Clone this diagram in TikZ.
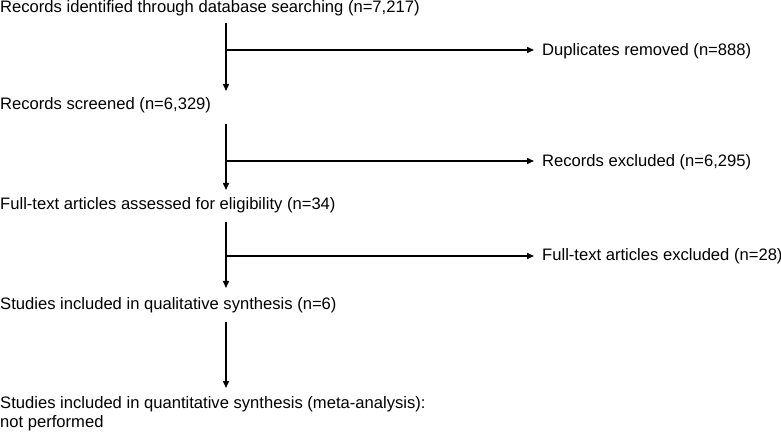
\documentclass[tikz,border=0pt]{standalone}
\usepackage{fontspec}
\setmainfont{Liberation Sans}
\usetikzlibrary{arrows.meta}
\begin{document}
\begin{tikzpicture}[x=1pt,y=-1pt,
  lbl/.style={inner sep=0pt,anchor=base west,font=\fontsize{16.6}{19}\selectfont},
  conn/.style={line width=1.5pt,-{Triangle[length=7pt,width=6pt]}}]
\useasboundingbox (0,0) rectangle (781,435);
% main column
\node[lbl] (L1) at (0,13) {Records identified through database searching (n=7,217)};
\node[lbl] (L2) at (0,110) {Records screened (n=6,329)};
\node[lbl] (L3) at (0,210) {Full-text articles assessed for eligibility (n=34)};
\node[lbl] (L4) at (0,309) {Studies included in qualitative synthesis (n=6)};
\node[lbl,anchor=north west,align=left] (L5) at (0,396) {Studies included in quantitative synthesis (meta-analysis):\\not performed};
% side boxes
\node[lbl] (R1) at (542,56) {Duplicates removed (n=888)};
\node[lbl] (R2) at (542,167) {Records excluded (n=6,295)};
\node[lbl] (R3) at (542,261) {Full-text articles excluded (n=28)};
% trunk coordinates
\coordinate (a1) at (226,23);  \coordinate (b1) at (226,91);  \coordinate (j1) at (226,50);
\coordinate (a2) at (226,124); \coordinate (b2) at (226,190); \coordinate (j2) at (226,161);
\coordinate (a3) at (226,222); \coordinate (b3) at (226,288); \coordinate (j3) at (226,256);
\coordinate (a4) at (226,322); \coordinate (b4) at (226,388);
\draw[conn] (a1) -- (b1);
\draw[conn] (a2) -- (b2);
\draw[conn] (a3) -- (b3);
\draw[conn] (a4) -- (b4);
\draw[conn,shorten >=8pt] (j1) -- (j1 -| R1.west);
\draw[conn,shorten >=8pt] (j2) -- (j2 -| R2.west);
\draw[conn,shorten >=8pt] (j3) -- (j3 -| R3.west);
\end{tikzpicture}
\end{document}
